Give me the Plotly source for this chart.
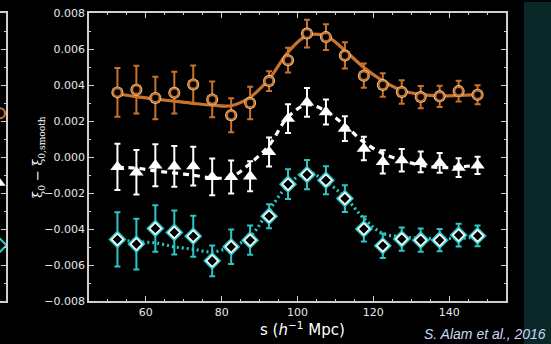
import plotly.graph_objects as go

# ---- data ----
s = [52.5, 57.5, 62.5, 67.5, 72.5, 77.5, 82.5, 87.5, 92.5, 97.5,
     102.5, 107.5, 112.5, 117.5, 122.5, 127.5, 132.5, 137.5, 142.5, 147.5]

orange_y = [0.00359, 0.00374, 0.00328, 0.00357, 0.00403, 0.00320, 0.00232, 0.00300, 0.00422, 0.00538,
            0.00686, 0.00666, 0.00564, 0.00452, 0.00400, 0.00361, 0.00333, 0.00337, 0.00366, 0.00346]
orange_err = [0.00136, 0.00133, 0.00118, 0.00116, 0.00106, 0.00099, 0.00094, 0.00090, 0.00055, 0.00069,
              0.00077, 0.00072, 0.00073, 0.00067, 0.00065, 0.00065, 0.00062, 0.00059, 0.00057, 0.00053]
orange_model = [0.00350, 0.00335, 0.00322, 0.00310, 0.00298, 0.00288, 0.00285, 0.00332, 0.00433, 0.00582,
                0.00675, 0.00672, 0.00592, 0.00497, 0.00423, 0.00370, 0.00348, 0.00340, 0.00342, 0.00346]

white_y = [-0.00055, -0.00085, -0.00046, -0.00052, -0.00051, -0.00111, -0.00111, -0.00107, 0.00028, 0.00213,
           0.00304, 0.00250, 0.00158, 0.00047, -0.00027, -0.00018, -0.00027, -0.00033, -0.00059, -0.00046]
white_err = [0.00129, 0.00124, 0.00117, 0.00113, 0.00108, 0.00102, 0.00092, 0.00083, 0.00081, 0.00080,
             0.00080, 0.00070, 0.00069, 0.00065, 0.00065, 0.00062, 0.00058, 0.00055, 0.00052, 0.00048]
white_model = [-0.00058, -0.00062, -0.00077, -0.00089, -0.00101, -0.00116, -0.00110, -0.00036, 0.00065, 0.00222,
               0.00290, 0.00255, 0.00176, 0.00083, 0.00019, -0.00018, -0.00046, -0.00059, -0.00055, -0.00046]

cyan_y = [-0.00458, -0.00484, -0.00397, -0.00419, -0.00440, -0.00577, -0.00499, -0.00462, -0.00329, -0.00151,
          -0.00098, -0.00129, -0.00231, -0.00400, -0.00493, -0.00456, -0.00462, -0.00462, -0.00434, -0.00438]
cyan_err = [0.00151, 0.00141, 0.00129, 0.00122, 0.00114, 0.00085, 0.00096, 0.00081, 0.00067, 0.00083,
            0.00081, 0.00078, 0.00074, 0.00069, 0.00068, 0.00065, 0.00065, 0.00062, 0.00063, 0.00058]
cyan_model = [-0.00458, -0.00471, -0.00477, -0.00499, -0.00513, -0.00527, -0.00499, -0.00443, -0.00295, -0.00157,
              -0.00083, -0.00138, -0.00222, -0.00341, -0.00425, -0.00443, -0.00452, -0.00452, -0.00452, -0.00443]

# partially visible neighbouring panel (cut at the left edge)
left_x = [0.0]
left_orange = [0.00243]
left_white = [-0.00146]
left_cyan = [-0.0049]

ORANGE = "#c8722c"
ORANGE_LIGHT = "#f7d9ae"
CYAN = "#2cc6c6"
WHITE = "#ffffff"
FRAME = "#cfcfcf"

fig = go.Figure()

# model curves
fig.add_trace(go.Scatter(x=s, y=orange_model, mode="lines", line=dict(color=ORANGE, width=3.2, shape="spline"),
                         hoverinfo="skip", showlegend=False))
fig.add_trace(go.Scatter(x=s, y=white_model, mode="lines", line=dict(color=WHITE, width=3.2, dash="6px,5px", shape="spline"),
                         hoverinfo="skip", showlegend=False))
fig.add_trace(go.Scatter(x=s, y=cyan_model, mode="lines", line=dict(color=CYAN, width=3.2, dash="2px,3px", shape="spline"),
                         hoverinfo="skip", showlegend=False))

# orange data: error bars + two-layer circle
fig.add_trace(go.Scatter(x=s, y=orange_y, mode="markers",
                         error_y=dict(type="data", array=orange_err, color=ORANGE, thickness=2, width=3),
                         marker=dict(symbol="circle", size=12, color=ORANGE_LIGHT, line=dict(width=0)),
                         showlegend=False))
fig.add_trace(go.Scatter(x=s, y=orange_y, mode="markers",
                         marker=dict(symbol="circle", size=8.5, color="#000000", line=dict(color=ORANGE, width=2.2)),
                         showlegend=False))

# white data: triangles
fig.add_trace(go.Scatter(x=s, y=white_y, mode="markers",
                         error_y=dict(type="data", array=white_err, color=WHITE, thickness=2, width=3),
                         marker=dict(symbol="triangle-up", size=12.5, color=WHITE, line=dict(width=0)),
                         showlegend=False))

# cyan data: two-layer diamond
fig.add_trace(go.Scatter(x=s, y=cyan_y, mode="markers",
                         error_y=dict(type="data", array=cyan_err, color=CYAN, thickness=2, width=3),
                         marker=dict(symbol="diamond", size=14, color=CYAN, line=dict(width=0)),
                         showlegend=False))
fig.add_trace(go.Scatter(x=s, y=cyan_y, mode="markers",
                         marker=dict(symbol="diamond", size=9, color="#000000", line=dict(color=WHITE, width=1.6)),
                         showlegend=False))

# left partial panel
fig.add_trace(go.Scatter(x=left_x, y=left_orange, xaxis="x2", yaxis="y2", mode="markers", cliponaxis=False,
                         marker=dict(symbol="circle", size=10, color="#000000", line=dict(color=ORANGE, width=2.2)),
                         showlegend=False))
fig.add_trace(go.Scatter(x=left_x, y=left_white, xaxis="x2", yaxis="y2", mode="markers", cliponaxis=False,
                         marker=dict(symbol="triangle-up", size=10, color=WHITE), showlegend=False))
fig.add_trace(go.Scatter(x=left_x, y=left_cyan, xaxis="x2", yaxis="y2", mode="markers", cliponaxis=False,
                         marker=dict(symbol="diamond", size=10, color="#000000", line=dict(color=CYAN, width=2.2)),
                         showlegend=False))

W, H = 551, 344
ML, MR, MT, MB = 0, 0, 13, 43
PW, PH = W - ML - MR, H - MT - MB
x0px, x1px = 89, 506

tickfont = dict(family="DejaVu Sans", size=11, color="#e6e6e6")

fig.update_layout(
    width=W, height=H,
    margin=dict(l=ML, r=MR, t=MT, b=MB),
    paper_bgcolor="#000000", plot_bgcolor="#000000",
    showlegend=False,
    xaxis=dict(domain=[x0px / W, x1px / W], range=[45, 155], tick0=0, dtick=20,
               showgrid=False, zeroline=False, showline=True, linecolor=FRAME, linewidth=1.5,
               mirror="allticks", ticks="inside", ticklen=5, tickwidth=1, tickcolor=FRAME,
               tickfont=tickfont,
               minor=dict(dtick=5, ticks="inside", ticklen=2.5, tickcolor=FRAME, showgrid=False)),
    yaxis=dict(range=[-0.008, 0.008], tick0=0, dtick=0.002, tickformat=".3f",
               showgrid=False, zeroline=False, showline=True, linecolor=FRAME, linewidth=1.5,
               mirror="allticks", ticks="inside", ticklen=5, tickwidth=1, tickcolor=FRAME,
               tickfont=tickfont,
               minor=dict(dtick=0.001, ticks="inside", ticklen=2.5, tickcolor=FRAME, showgrid=False)),
    xaxis2=dict(domain=[0, 6 / W], range=[0, 1], anchor="y2", showgrid=False, zeroline=False,
                showline=True, linecolor=FRAME, linewidth=1.5, mirror=True, ticks="", showticklabels=False),
    yaxis2=dict(range=[-0.008, 0.008], anchor="x2", side="right", tick0=0, dtick=0.002,
                showgrid=False, zeroline=False, showline=True, linecolor=FRAME, linewidth=1.5,
                ticks="inside", ticklen=5, tickcolor=FRAME, showticklabels=False,
                minor=dict(dtick=0.001, ticks="inside", ticklen=2.5, tickcolor=FRAME, showgrid=False)),
)

# dark teal strip at right edge
fig.add_shape(type="rect", xref="paper", yref="paper",
              x0=524 / W, x1=1.0, y0=-MB / PH, y1=1 + MT / PH - 2 / PH,
              fillcolor="#0b2828", line=dict(width=0), layer="below")

# axis titles and credit
fig.add_annotation(xref="paper", yref="paper", x=38 / W, y=(301 - 157) / PH,
                   xanchor="center", yanchor="middle",
                   text="ξ<sub>0</sub> − ξ<sub>0,smooth</sub>", textangle=-90, showarrow=False,
                   font=dict(family="DejaVu Serif", size=13, color="#ffffff"))
fig.add_annotation(xref="paper", yref="paper", x=302 / W, y=(301 - 329) / PH,
                   xanchor="center", yanchor="middle",
                   text="s (<i>h</i><sup>−1</sup> Mpc)", showarrow=False,
                   font=dict(family="DejaVu Sans", size=15, color="#ffffff"))
fig.add_annotation(xref="paper", yref="paper", x=548 / W, y=(301 - 334) / PH,
                   xanchor="right", yanchor="middle",
                   text="<i>S. Alam et al., 2016</i>", showarrow=False,
                   font=dict(family="Liberation Sans", size=14, color="#c8d8f2"))

fig.write_html("out.html")
